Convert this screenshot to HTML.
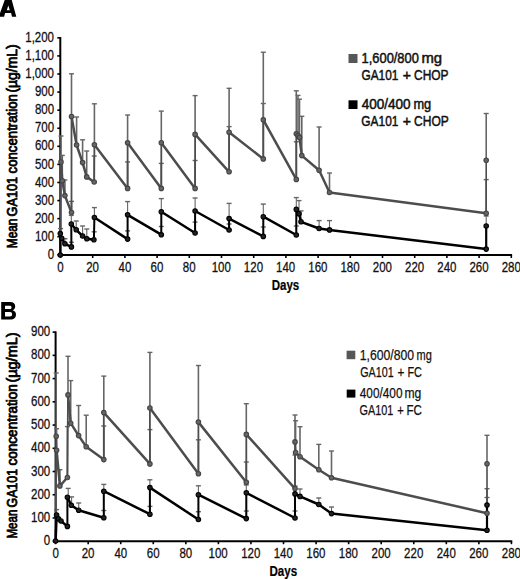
<!DOCTYPE html>
<html><head><meta charset="utf-8"><title>GA101 PK</title>
<style>html,body{margin:0;padding:0;background:#fff;width:520px;height:579px;overflow:hidden}body{position:relative;font-family:"Liberation Sans", sans-serif}</style>
</head><body>
<svg width="520" height="579" viewBox="0 0 520 579" style="position:absolute;left:0;top:0">
<rect width="520" height="579" fill="#fff"/>
<g font-family='"Liberation Sans", sans-serif'>
<path fill="#000" fill-rule="evenodd" d="M-1.2,16.7 L4.9,-0.5 L11.6,-0.5 L16.3,16.7 L12.0,16.7 L11.1,13.0 L5.1,13.0 L4.1,16.7 Z M8.3,5.6 L6.8,10.2 L9.8,10.2 Z"/>
<path fill="#000" fill-rule="evenodd" d="M1.2,302 L10.2,302 C13.6,302 15.2,303.8 15.2,306.4 C15.2,308.2 14.2,309.6 12.6,310.2 C14.7,310.8 16,312.4 16,314.6 C16,317.6 14,319.6 10.4,319.6 L1.2,319.6 Z M5,305.8 L5,309 L9.6,309 C10.9,309 11.5,308.3 11.5,307.4 C11.5,306.5 10.9,305.8 9.6,305.8 Z M5,312 L5,316.5 L9.9,316.5 C11.4,316.5 12.1,315.5 12.1,314.2 C12.1,312.9 11.4,312 9.9,312 Z"/>
<line x1="60.3" y1="37.040000000000035" x2="60.3" y2="256.0" stroke="#000" stroke-width="2"/>
<line x1="59.3" y1="255.0" x2="512.1" y2="255.0" stroke="#000" stroke-width="2"/>
<line x1="57.3" y1="254.80" x2="60.3" y2="254.80" stroke="#000" stroke-width="1.6"/>
<line x1="57.3" y1="236.72" x2="60.3" y2="236.72" stroke="#000" stroke-width="1.6"/>
<line x1="57.3" y1="218.64" x2="60.3" y2="218.64" stroke="#000" stroke-width="1.6"/>
<line x1="57.3" y1="200.56" x2="60.3" y2="200.56" stroke="#000" stroke-width="1.6"/>
<line x1="57.3" y1="182.48" x2="60.3" y2="182.48" stroke="#000" stroke-width="1.6"/>
<line x1="57.3" y1="164.40" x2="60.3" y2="164.40" stroke="#000" stroke-width="1.6"/>
<line x1="57.3" y1="146.32" x2="60.3" y2="146.32" stroke="#000" stroke-width="1.6"/>
<line x1="57.3" y1="128.24" x2="60.3" y2="128.24" stroke="#000" stroke-width="1.6"/>
<line x1="57.3" y1="110.16" x2="60.3" y2="110.16" stroke="#000" stroke-width="1.6"/>
<line x1="57.3" y1="92.08" x2="60.3" y2="92.08" stroke="#000" stroke-width="1.6"/>
<line x1="57.3" y1="74.00" x2="60.3" y2="74.00" stroke="#000" stroke-width="1.6"/>
<line x1="57.3" y1="55.92" x2="60.3" y2="55.92" stroke="#000" stroke-width="1.6"/>
<line x1="57.3" y1="37.84" x2="60.3" y2="37.84" stroke="#000" stroke-width="1.6"/>
<line x1="60.50" y1="255.0" x2="60.50" y2="258.0" stroke="#000" stroke-width="1.6"/>
<line x1="92.70" y1="255.0" x2="92.70" y2="258.0" stroke="#000" stroke-width="1.6"/>
<line x1="124.90" y1="255.0" x2="124.90" y2="258.0" stroke="#000" stroke-width="1.6"/>
<line x1="157.10" y1="255.0" x2="157.10" y2="258.0" stroke="#000" stroke-width="1.6"/>
<line x1="189.30" y1="255.0" x2="189.30" y2="258.0" stroke="#000" stroke-width="1.6"/>
<line x1="221.50" y1="255.0" x2="221.50" y2="258.0" stroke="#000" stroke-width="1.6"/>
<line x1="253.70" y1="255.0" x2="253.70" y2="258.0" stroke="#000" stroke-width="1.6"/>
<line x1="285.90" y1="255.0" x2="285.90" y2="258.0" stroke="#000" stroke-width="1.6"/>
<line x1="318.10" y1="255.0" x2="318.10" y2="258.0" stroke="#000" stroke-width="1.6"/>
<line x1="350.30" y1="255.0" x2="350.30" y2="258.0" stroke="#000" stroke-width="1.6"/>
<line x1="382.50" y1="255.0" x2="382.50" y2="258.0" stroke="#000" stroke-width="1.6"/>
<line x1="414.70" y1="255.0" x2="414.70" y2="258.0" stroke="#000" stroke-width="1.6"/>
<line x1="446.90" y1="255.0" x2="446.90" y2="258.0" stroke="#000" stroke-width="1.6"/>
<line x1="479.10" y1="255.0" x2="479.10" y2="258.0" stroke="#000" stroke-width="1.6"/>
<line x1="511.30" y1="255.0" x2="511.30" y2="258.0" stroke="#000" stroke-width="1.6"/>
<text x="47.67" y="258.90" font-size="15" font-weight="normal" fill="#111" stroke="#111" stroke-width="0.3" stroke-linejoin="round" textLength="6.40" lengthAdjust="spacingAndGlyphs">0</text>
<text x="34.91" y="240.82" font-size="15" font-weight="normal" fill="#111" stroke="#111" stroke-width="0.3" stroke-linejoin="round" textLength="19.19" lengthAdjust="spacingAndGlyphs">100</text>
<text x="34.91" y="222.74" font-size="15" font-weight="normal" fill="#111" stroke="#111" stroke-width="0.3" stroke-linejoin="round" textLength="19.19" lengthAdjust="spacingAndGlyphs">200</text>
<text x="34.91" y="204.66" font-size="15" font-weight="normal" fill="#111" stroke="#111" stroke-width="0.3" stroke-linejoin="round" textLength="19.19" lengthAdjust="spacingAndGlyphs">300</text>
<text x="34.91" y="186.58" font-size="15" font-weight="normal" fill="#111" stroke="#111" stroke-width="0.3" stroke-linejoin="round" textLength="19.19" lengthAdjust="spacingAndGlyphs">400</text>
<text x="34.91" y="168.50" font-size="15" font-weight="normal" fill="#111" stroke="#111" stroke-width="0.3" stroke-linejoin="round" textLength="19.19" lengthAdjust="spacingAndGlyphs">500</text>
<text x="34.91" y="150.42" font-size="15" font-weight="normal" fill="#111" stroke="#111" stroke-width="0.3" stroke-linejoin="round" textLength="19.19" lengthAdjust="spacingAndGlyphs">600</text>
<text x="34.91" y="132.34" font-size="15" font-weight="normal" fill="#111" stroke="#111" stroke-width="0.3" stroke-linejoin="round" textLength="19.19" lengthAdjust="spacingAndGlyphs">700</text>
<text x="34.91" y="114.26" font-size="15" font-weight="normal" fill="#111" stroke="#111" stroke-width="0.3" stroke-linejoin="round" textLength="19.19" lengthAdjust="spacingAndGlyphs">800</text>
<text x="34.91" y="96.18" font-size="15" font-weight="normal" fill="#111" stroke="#111" stroke-width="0.3" stroke-linejoin="round" textLength="19.19" lengthAdjust="spacingAndGlyphs">900</text>
<text x="25.24" y="78.10" font-size="15" font-weight="normal" fill="#111" stroke="#111" stroke-width="0.3" stroke-linejoin="round" textLength="28.78" lengthAdjust="spacingAndGlyphs">1,000</text>
<text x="25.24" y="60.02" font-size="15" font-weight="normal" fill="#111" stroke="#111" stroke-width="0.3" stroke-linejoin="round" textLength="28.78" lengthAdjust="spacingAndGlyphs">1,100</text>
<text x="25.24" y="41.94" font-size="15" font-weight="normal" fill="#111" stroke="#111" stroke-width="0.3" stroke-linejoin="round" textLength="28.78" lengthAdjust="spacingAndGlyphs">1,200</text>
<text x="57.28" y="271.80" font-size="15" font-weight="normal" fill="#111" stroke="#111" stroke-width="0.3" stroke-linejoin="round" textLength="6.40" lengthAdjust="spacingAndGlyphs">0</text>
<text x="86.20" y="271.80" font-size="15" font-weight="normal" fill="#111" stroke="#111" stroke-width="0.3" stroke-linejoin="round" textLength="12.79" lengthAdjust="spacingAndGlyphs">20</text>
<text x="118.58" y="271.80" font-size="15" font-weight="normal" fill="#111" stroke="#111" stroke-width="0.3" stroke-linejoin="round" textLength="12.79" lengthAdjust="spacingAndGlyphs">40</text>
<text x="150.60" y="271.80" font-size="15" font-weight="normal" fill="#111" stroke="#111" stroke-width="0.3" stroke-linejoin="round" textLength="12.79" lengthAdjust="spacingAndGlyphs">60</text>
<text x="182.86" y="271.80" font-size="15" font-weight="normal" fill="#111" stroke="#111" stroke-width="0.3" stroke-linejoin="round" textLength="12.79" lengthAdjust="spacingAndGlyphs">80</text>
<text x="211.67" y="271.80" font-size="15" font-weight="normal" fill="#111" stroke="#111" stroke-width="0.3" stroke-linejoin="round" textLength="19.19" lengthAdjust="spacingAndGlyphs">100</text>
<text x="243.87" y="271.80" font-size="15" font-weight="normal" fill="#111" stroke="#111" stroke-width="0.3" stroke-linejoin="round" textLength="19.19" lengthAdjust="spacingAndGlyphs">120</text>
<text x="276.07" y="271.80" font-size="15" font-weight="normal" fill="#111" stroke="#111" stroke-width="0.3" stroke-linejoin="round" textLength="19.19" lengthAdjust="spacingAndGlyphs">140</text>
<text x="308.27" y="271.80" font-size="15" font-weight="normal" fill="#111" stroke="#111" stroke-width="0.3" stroke-linejoin="round" textLength="19.19" lengthAdjust="spacingAndGlyphs">160</text>
<text x="340.47" y="271.80" font-size="15" font-weight="normal" fill="#111" stroke="#111" stroke-width="0.3" stroke-linejoin="round" textLength="19.19" lengthAdjust="spacingAndGlyphs">180</text>
<text x="372.84" y="271.80" font-size="15" font-weight="normal" fill="#111" stroke="#111" stroke-width="0.3" stroke-linejoin="round" textLength="19.19" lengthAdjust="spacingAndGlyphs">200</text>
<text x="405.04" y="271.80" font-size="15" font-weight="normal" fill="#111" stroke="#111" stroke-width="0.3" stroke-linejoin="round" textLength="19.19" lengthAdjust="spacingAndGlyphs">220</text>
<text x="437.24" y="271.80" font-size="15" font-weight="normal" fill="#111" stroke="#111" stroke-width="0.3" stroke-linejoin="round" textLength="19.19" lengthAdjust="spacingAndGlyphs">240</text>
<text x="469.44" y="271.80" font-size="15" font-weight="normal" fill="#111" stroke="#111" stroke-width="0.3" stroke-linejoin="round" textLength="19.19" lengthAdjust="spacingAndGlyphs">260</text>
<text x="501.64" y="271.80" font-size="15" font-weight="normal" fill="#111" stroke="#111" stroke-width="0.3" stroke-linejoin="round" textLength="19.19" lengthAdjust="spacingAndGlyphs">280</text>
<text x="271.69" y="289.60" font-size="14.5" font-weight="bold" fill="#000" stroke="#000" stroke-width="0.2" stroke-linejoin="round" textLength="27.57" lengthAdjust="spacingAndGlyphs">Days</text>
<text transform="translate(16.70,248.15) rotate(-90)" x="0" y="0" font-size="14.5" font-weight="normal" fill="#000" stroke="#000" stroke-width="0.8" stroke-linejoin="round" textLength="29.57" lengthAdjust="spacingAndGlyphs">Mean</text>
<text transform="translate(16.70,216.44) rotate(-90)" x="0" y="0" font-size="14.5" font-weight="normal" fill="#000" stroke="#000" stroke-width="0.8" stroke-linejoin="round" textLength="39.58" lengthAdjust="spacingAndGlyphs">GA101</text>
<text transform="translate(16.70,173.43) rotate(-90)" x="0" y="0" font-size="14.5" font-weight="normal" fill="#000" stroke="#000" stroke-width="0.8" stroke-linejoin="round" textLength="79.27" lengthAdjust="spacingAndGlyphs">concentration</text>
<text transform="translate(16.70,92.54) rotate(-90)" x="0" y="0" font-size="14.5" font-weight="normal" fill="#000" stroke="#000" stroke-width="0.8" stroke-linejoin="round" textLength="48.24" lengthAdjust="spacingAndGlyphs">(&#181;g/mL)</text>
<rect x="348.5" y="54" width="9" height="9" fill="#565656"/>
<rect x="348.5" y="100.3" width="9" height="8.7" fill="#000"/>
<text x="361.62" y="63.20" font-size="14.5" font-weight="normal" fill="#111" stroke="#111" stroke-width="0.5" stroke-linejoin="round" textLength="57.22" lengthAdjust="spacingAndGlyphs">1,600/800</text>
<text x="421.41" y="63.20" font-size="14.5" font-weight="normal" fill="#111" stroke="#111" stroke-width="0.5" stroke-linejoin="round" textLength="20.67" lengthAdjust="spacingAndGlyphs">mg</text>
<text x="361.46" y="79.90" font-size="14.5" font-weight="normal" fill="#111" stroke="#111" stroke-width="0.5" stroke-linejoin="round" textLength="36.90" lengthAdjust="spacingAndGlyphs">GA101</text>
<text x="402.85" y="79.90" font-size="14.5" font-weight="normal" fill="#111" stroke="#111" stroke-width="0.5" stroke-linejoin="round" textLength="8.22" lengthAdjust="spacingAndGlyphs">+</text>
<text x="414.05" y="79.90" font-size="14.5" font-weight="normal" fill="#111" stroke="#111" stroke-width="0.5" stroke-linejoin="round" textLength="34.48" lengthAdjust="spacingAndGlyphs">CHOP</text>
<text x="361.68" y="109.00" font-size="14.5" font-weight="normal" fill="#111" stroke="#111" stroke-width="0.5" stroke-linejoin="round" textLength="48.94" lengthAdjust="spacingAndGlyphs">400/400</text>
<text x="413.45" y="109.00" font-size="14.5" font-weight="normal" fill="#111" stroke="#111" stroke-width="0.5" stroke-linejoin="round" textLength="17.78" lengthAdjust="spacingAndGlyphs">mg</text>
<text x="361.36" y="125.80" font-size="14.5" font-weight="normal" fill="#111" stroke="#111" stroke-width="0.5" stroke-linejoin="round" textLength="37.01" lengthAdjust="spacingAndGlyphs">GA101</text>
<text x="402.85" y="125.80" font-size="14.5" font-weight="normal" fill="#111" stroke="#111" stroke-width="0.5" stroke-linejoin="round" textLength="8.22" lengthAdjust="spacingAndGlyphs">+</text>
<text x="414.05" y="125.80" font-size="14.5" font-weight="normal" fill="#111" stroke="#111" stroke-width="0.5" stroke-linejoin="round" textLength="34.69" lengthAdjust="spacingAndGlyphs">CHOP</text>
<line x1="61.0" y1="136.0" x2="61.0" y2="162.0" stroke="#666666" stroke-width="1.6"/>
<line x1="58.5" y1="136.0" x2="63.5" y2="136.0" stroke="#666666" stroke-width="1.4"/>
<line x1="62.3" y1="155.4" x2="62.3" y2="180.7" stroke="#666666" stroke-width="1.6"/>
<line x1="59.8" y1="155.4" x2="64.8" y2="155.4" stroke="#666666" stroke-width="1.4"/>
<line x1="64.9" y1="180.0" x2="64.9" y2="195.6" stroke="#666666" stroke-width="1.6"/>
<line x1="62.4" y1="180.0" x2="67.4" y2="180.0" stroke="#666666" stroke-width="1.4"/>
<line x1="71.5" y1="201.4" x2="71.5" y2="212.5" stroke="#666666" stroke-width="1.6"/>
<line x1="69.0" y1="201.4" x2="74.0" y2="201.4" stroke="#666666" stroke-width="1.4"/>
<line x1="71.5" y1="73.8" x2="71.5" y2="116.5" stroke="#666666" stroke-width="1.6"/>
<line x1="69.0" y1="73.8" x2="74.0" y2="73.8" stroke="#666666" stroke-width="1.4"/>
<line x1="76.6" y1="117.0" x2="76.6" y2="145.0" stroke="#666666" stroke-width="1.6"/>
<line x1="74.1" y1="117.0" x2="79.1" y2="117.0" stroke="#666666" stroke-width="1.4"/>
<line x1="82.6" y1="139.8" x2="82.6" y2="162.6" stroke="#666666" stroke-width="1.6"/>
<line x1="80.1" y1="139.8" x2="85.1" y2="139.8" stroke="#666666" stroke-width="1.4"/>
<line x1="86.7" y1="151.0" x2="86.7" y2="176.9" stroke="#666666" stroke-width="1.6"/>
<line x1="84.2" y1="151.0" x2="89.2" y2="151.0" stroke="#666666" stroke-width="1.4"/>
<line x1="94.2" y1="156.0" x2="94.2" y2="182.0" stroke="#666666" stroke-width="1.6"/>
<line x1="91.7" y1="156.0" x2="96.7" y2="156.0" stroke="#666666" stroke-width="1.4"/>
<line x1="94.4" y1="103.8" x2="94.4" y2="144.8" stroke="#666666" stroke-width="1.6"/>
<line x1="91.9" y1="103.8" x2="96.9" y2="103.8" stroke="#666666" stroke-width="1.4"/>
<line x1="127.6" y1="161.9" x2="127.6" y2="188.4" stroke="#666666" stroke-width="1.6"/>
<line x1="125.1" y1="161.9" x2="130.1" y2="161.9" stroke="#666666" stroke-width="1.4"/>
<line x1="127.6" y1="115.0" x2="127.6" y2="142.8" stroke="#666666" stroke-width="1.6"/>
<line x1="125.1" y1="115.0" x2="130.1" y2="115.0" stroke="#666666" stroke-width="1.4"/>
<line x1="161.3" y1="163.4" x2="161.3" y2="188.4" stroke="#666666" stroke-width="1.6"/>
<line x1="158.8" y1="163.4" x2="163.8" y2="163.4" stroke="#666666" stroke-width="1.4"/>
<line x1="161.3" y1="111.1" x2="161.3" y2="142.8" stroke="#666666" stroke-width="1.6"/>
<line x1="158.8" y1="111.1" x2="163.8" y2="111.1" stroke="#666666" stroke-width="1.4"/>
<line x1="195.1" y1="160.5" x2="195.1" y2="188.4" stroke="#666666" stroke-width="1.6"/>
<line x1="192.6" y1="160.5" x2="197.6" y2="160.5" stroke="#666666" stroke-width="1.4"/>
<line x1="195.1" y1="95.6" x2="195.1" y2="134.4" stroke="#666666" stroke-width="1.6"/>
<line x1="192.6" y1="95.6" x2="197.6" y2="95.6" stroke="#666666" stroke-width="1.4"/>
<line x1="229.1" y1="126.6" x2="229.1" y2="171.8" stroke="#666666" stroke-width="1.6"/>
<line x1="226.6" y1="126.6" x2="231.6" y2="126.6" stroke="#666666" stroke-width="1.4"/>
<line x1="229.1" y1="88.3" x2="229.1" y2="132.3" stroke="#666666" stroke-width="1.6"/>
<line x1="226.6" y1="88.3" x2="231.6" y2="88.3" stroke="#666666" stroke-width="1.4"/>
<line x1="263.3" y1="103.5" x2="263.3" y2="158.9" stroke="#666666" stroke-width="1.6"/>
<line x1="260.8" y1="103.5" x2="265.8" y2="103.5" stroke="#666666" stroke-width="1.4"/>
<line x1="263.3" y1="52.2" x2="263.3" y2="119.8" stroke="#666666" stroke-width="1.6"/>
<line x1="260.8" y1="52.2" x2="265.8" y2="52.2" stroke="#666666" stroke-width="1.4"/>
<line x1="296.3" y1="141.8" x2="296.3" y2="179.4" stroke="#666666" stroke-width="1.6"/>
<line x1="293.8" y1="141.8" x2="298.8" y2="141.8" stroke="#666666" stroke-width="1.4"/>
<line x1="296.3" y1="90.8" x2="296.3" y2="133.8" stroke="#666666" stroke-width="1.6"/>
<line x1="293.8" y1="90.8" x2="298.8" y2="90.8" stroke="#666666" stroke-width="1.4"/>
<line x1="298.0" y1="95.4" x2="298.0" y2="135.5" stroke="#666666" stroke-width="1.6"/>
<line x1="295.5" y1="95.4" x2="300.5" y2="95.4" stroke="#666666" stroke-width="1.4"/>
<line x1="299.5" y1="99.2" x2="299.5" y2="137.4" stroke="#666666" stroke-width="1.6"/>
<line x1="297.0" y1="99.2" x2="302.0" y2="99.2" stroke="#666666" stroke-width="1.4"/>
<line x1="301.8" y1="116.3" x2="301.8" y2="155.6" stroke="#666666" stroke-width="1.6"/>
<line x1="299.3" y1="116.3" x2="304.3" y2="116.3" stroke="#666666" stroke-width="1.4"/>
<line x1="319.1" y1="127.0" x2="319.1" y2="170.3" stroke="#666666" stroke-width="1.6"/>
<line x1="316.6" y1="127.0" x2="321.6" y2="127.0" stroke="#666666" stroke-width="1.4"/>
<line x1="329.5" y1="173.0" x2="329.5" y2="192.5" stroke="#666666" stroke-width="1.6"/>
<line x1="327.0" y1="173.0" x2="332.0" y2="173.0" stroke="#666666" stroke-width="1.4"/>
<line x1="486.2" y1="179.6" x2="486.2" y2="213.3" stroke="#666666" stroke-width="1.6"/>
<line x1="483.7" y1="179.6" x2="488.7" y2="179.6" stroke="#666666" stroke-width="1.4"/>
<line x1="486.2" y1="113.5" x2="486.2" y2="160.3" stroke="#666666" stroke-width="1.6"/>
<line x1="483.7" y1="113.5" x2="488.7" y2="113.5" stroke="#666666" stroke-width="1.4"/>
<line x1="60.6" y1="228.6" x2="60.6" y2="233.6" stroke="#666666" stroke-width="1.1"/>
<line x1="58.1" y1="228.6" x2="63.1" y2="228.6" stroke="#666666" stroke-width="1.4"/>
<line x1="64.9" y1="238.7" x2="64.9" y2="243.8" stroke="#666666" stroke-width="1.1"/>
<line x1="62.4" y1="238.7" x2="67.4" y2="238.7" stroke="#666666" stroke-width="1.4"/>
<line x1="71.4" y1="242.2" x2="71.4" y2="246.9" stroke="#666666" stroke-width="1.1"/>
<line x1="68.9" y1="242.2" x2="73.9" y2="242.2" stroke="#666666" stroke-width="1.4"/>
<line x1="71.3" y1="215.4" x2="71.3" y2="224.0" stroke="#666666" stroke-width="1.1"/>
<line x1="68.8" y1="215.4" x2="73.8" y2="215.4" stroke="#666666" stroke-width="1.4"/>
<line x1="76.2" y1="221.0" x2="76.2" y2="229.8" stroke="#666666" stroke-width="1.1"/>
<line x1="73.7" y1="221.0" x2="78.7" y2="221.0" stroke="#666666" stroke-width="1.4"/>
<line x1="82.6" y1="226.0" x2="82.6" y2="236.0" stroke="#666666" stroke-width="1.1"/>
<line x1="80.1" y1="226.0" x2="85.1" y2="226.0" stroke="#666666" stroke-width="1.4"/>
<line x1="86.8" y1="229.0" x2="86.8" y2="238.7" stroke="#666666" stroke-width="1.1"/>
<line x1="84.3" y1="229.0" x2="89.3" y2="229.0" stroke="#666666" stroke-width="1.4"/>
<line x1="94.2" y1="231.8" x2="94.2" y2="239.7" stroke="#666666" stroke-width="1.1"/>
<line x1="91.7" y1="231.8" x2="96.7" y2="231.8" stroke="#666666" stroke-width="1.4"/>
<line x1="94.4" y1="207.6" x2="94.4" y2="217.5" stroke="#666666" stroke-width="1.1"/>
<line x1="91.9" y1="207.6" x2="96.9" y2="207.6" stroke="#666666" stroke-width="1.4"/>
<line x1="127.6" y1="230.9" x2="127.6" y2="239.1" stroke="#666666" stroke-width="1.1"/>
<line x1="125.1" y1="230.9" x2="130.1" y2="230.9" stroke="#666666" stroke-width="1.4"/>
<line x1="127.6" y1="201.6" x2="127.6" y2="214.8" stroke="#666666" stroke-width="1.1"/>
<line x1="125.1" y1="201.6" x2="130.1" y2="201.6" stroke="#666666" stroke-width="1.4"/>
<line x1="161.3" y1="226.5" x2="161.3" y2="234.7" stroke="#666666" stroke-width="1.1"/>
<line x1="158.8" y1="226.5" x2="163.8" y2="226.5" stroke="#666666" stroke-width="1.4"/>
<line x1="161.3" y1="198.6" x2="161.3" y2="211.8" stroke="#666666" stroke-width="1.1"/>
<line x1="158.8" y1="198.6" x2="163.8" y2="198.6" stroke="#666666" stroke-width="1.4"/>
<line x1="195.1" y1="222.1" x2="195.1" y2="233.0" stroke="#666666" stroke-width="1.1"/>
<line x1="192.6" y1="222.1" x2="197.6" y2="222.1" stroke="#666666" stroke-width="1.4"/>
<line x1="195.1" y1="198.0" x2="195.1" y2="211.0" stroke="#666666" stroke-width="1.1"/>
<line x1="192.6" y1="198.0" x2="197.6" y2="198.0" stroke="#666666" stroke-width="1.4"/>
<line x1="229.1" y1="224.0" x2="229.1" y2="230.0" stroke="#666666" stroke-width="1.1"/>
<line x1="226.6" y1="224.0" x2="231.6" y2="224.0" stroke="#666666" stroke-width="1.4"/>
<line x1="229.1" y1="203.4" x2="229.1" y2="218.6" stroke="#666666" stroke-width="1.1"/>
<line x1="226.6" y1="203.4" x2="231.6" y2="203.4" stroke="#666666" stroke-width="1.4"/>
<line x1="263.3" y1="227.0" x2="263.3" y2="236.4" stroke="#666666" stroke-width="1.1"/>
<line x1="260.8" y1="227.0" x2="265.8" y2="227.0" stroke="#666666" stroke-width="1.4"/>
<line x1="263.3" y1="204.1" x2="263.3" y2="216.7" stroke="#666666" stroke-width="1.1"/>
<line x1="260.8" y1="204.1" x2="265.8" y2="204.1" stroke="#666666" stroke-width="1.4"/>
<line x1="296.3" y1="226.0" x2="296.3" y2="235.0" stroke="#666666" stroke-width="1.1"/>
<line x1="293.8" y1="226.0" x2="298.8" y2="226.0" stroke="#666666" stroke-width="1.4"/>
<line x1="296.3" y1="197.6" x2="296.3" y2="209.4" stroke="#666666" stroke-width="1.1"/>
<line x1="293.8" y1="197.6" x2="298.8" y2="197.6" stroke="#666666" stroke-width="1.4"/>
<line x1="299.0" y1="200.6" x2="299.0" y2="213.8" stroke="#666666" stroke-width="1.1"/>
<line x1="296.5" y1="200.6" x2="301.5" y2="200.6" stroke="#666666" stroke-width="1.4"/>
<line x1="301.0" y1="210.9" x2="301.0" y2="221.8" stroke="#666666" stroke-width="1.1"/>
<line x1="298.5" y1="210.9" x2="303.5" y2="210.9" stroke="#666666" stroke-width="1.4"/>
<line x1="319.1" y1="220.6" x2="319.1" y2="228.5" stroke="#666666" stroke-width="1.1"/>
<line x1="316.6" y1="220.6" x2="321.6" y2="220.6" stroke="#666666" stroke-width="1.4"/>
<line x1="329.5" y1="220.6" x2="329.5" y2="229.9" stroke="#666666" stroke-width="1.1"/>
<line x1="327.0" y1="220.6" x2="332.0" y2="220.6" stroke="#666666" stroke-width="1.4"/>
<line x1="486.2" y1="216.0" x2="486.2" y2="226.0" stroke="#666666" stroke-width="1.1"/>
<line x1="483.7" y1="216.0" x2="488.7" y2="216.0" stroke="#666666" stroke-width="1.4"/>
<path d="M60.6,255.0L61.0,162.0M71.5,212.5L71.5,116.5M94.2,182.0L94.4,144.8M127.6,188.4L127.6,142.8M161.3,188.4L161.3,142.8M195.1,188.4L195.1,134.4M229.1,171.8L229.1,132.3M263.3,158.9L263.3,119.8M296.3,179.4L296.3,133.8" fill="none" stroke="#4d4d4d" stroke-width="1.8" stroke-linecap="round"/>
<path d="M61.0,162.0L62.3,180.7M62.3,180.7L64.9,195.6M64.9,195.6L71.5,212.5M71.5,116.5L76.6,145.0M76.6,145.0L82.6,162.6M82.6,162.6L86.7,176.9M86.7,176.9L94.2,182.0M94.4,144.8L127.6,188.4M127.6,142.8L161.3,188.4M161.3,142.8L195.1,188.4M195.1,134.4L229.1,171.8M229.1,132.3L263.3,158.9M263.3,119.8L296.3,179.4M296.3,133.8L298.0,135.5M298.0,135.5L299.5,137.4M299.5,137.4L301.8,155.6M301.8,155.6L319.1,170.3M319.1,170.3L329.5,192.5M329.5,192.5L486.2,213.3" fill="none" stroke="#4d4d4d" stroke-width="2.5" stroke-linejoin="round" stroke-linecap="round"/>
<path d="M60.3,255.0L60.3,233.6M71.4,246.9L71.3,224.0M93.9,239.7L94.4,217.5M127.6,239.1L127.6,214.8M161.3,234.7L161.3,211.8M195.1,233.0L195.1,211.0M229.1,230.0L229.1,218.6M263.3,236.4L263.3,216.7M296.3,235.0L296.3,209.4" fill="none" stroke="#000" stroke-width="2.0" stroke-linecap="round"/>
<path d="M60.3,233.6L61.7,238.3M61.7,238.3L64.9,243.8M64.9,243.8L71.4,246.9M71.3,224.0L76.2,229.8M76.2,229.8L82.6,236.0M82.6,236.0L86.8,238.7M86.8,238.7L93.9,239.7M94.4,217.5L127.6,239.1M127.6,214.8L161.3,234.7M161.3,211.8L195.1,233.0M195.1,211.0L229.1,230.0M229.1,218.6L263.3,236.4M263.3,216.7L296.3,235.0M296.3,209.4L299.0,213.8M299.0,213.8L301.0,221.8M301.0,221.8L319.1,228.5M319.1,228.5L329.5,229.9M329.5,229.9L486.2,249.1" fill="none" stroke="#000" stroke-width="2.5" stroke-linejoin="round" stroke-linecap="round"/>
<line x1="486.2" y1="160.3" x2="486.2" y2="213.3" stroke="#4d4d4d" stroke-width="1.6"/>
<line x1="486.2" y1="226" x2="486.2" y2="249.1" stroke="#000" stroke-width="2.2"/>
<circle cx="61.0" cy="162.0" r="2.25" fill="#666" stroke="#444" stroke-width="1.1"/>
<circle cx="62.3" cy="180.7" r="2.25" fill="#666" stroke="#444" stroke-width="1.1"/>
<circle cx="64.9" cy="195.6" r="2.25" fill="#666" stroke="#444" stroke-width="1.1"/>
<circle cx="71.5" cy="212.5" r="2.25" fill="#666" stroke="#444" stroke-width="1.1"/>
<circle cx="71.5" cy="116.5" r="2.25" fill="#666" stroke="#444" stroke-width="1.1"/>
<circle cx="76.6" cy="145.0" r="2.25" fill="#666" stroke="#444" stroke-width="1.1"/>
<circle cx="82.6" cy="162.6" r="2.25" fill="#666" stroke="#444" stroke-width="1.1"/>
<circle cx="86.7" cy="176.9" r="2.25" fill="#666" stroke="#444" stroke-width="1.1"/>
<circle cx="94.2" cy="182.0" r="2.25" fill="#666" stroke="#444" stroke-width="1.1"/>
<circle cx="94.4" cy="144.8" r="2.25" fill="#666" stroke="#444" stroke-width="1.1"/>
<circle cx="127.6" cy="188.4" r="2.25" fill="#666" stroke="#444" stroke-width="1.1"/>
<circle cx="127.6" cy="142.8" r="2.25" fill="#666" stroke="#444" stroke-width="1.1"/>
<circle cx="161.3" cy="188.4" r="2.25" fill="#666" stroke="#444" stroke-width="1.1"/>
<circle cx="161.3" cy="142.8" r="2.25" fill="#666" stroke="#444" stroke-width="1.1"/>
<circle cx="195.1" cy="188.4" r="2.25" fill="#666" stroke="#444" stroke-width="1.1"/>
<circle cx="195.1" cy="134.4" r="2.25" fill="#666" stroke="#444" stroke-width="1.1"/>
<circle cx="229.1" cy="171.8" r="2.25" fill="#666" stroke="#444" stroke-width="1.1"/>
<circle cx="229.1" cy="132.3" r="2.25" fill="#666" stroke="#444" stroke-width="1.1"/>
<circle cx="263.3" cy="158.9" r="2.25" fill="#666" stroke="#444" stroke-width="1.1"/>
<circle cx="263.3" cy="119.8" r="2.25" fill="#666" stroke="#444" stroke-width="1.1"/>
<circle cx="296.3" cy="179.4" r="2.25" fill="#666" stroke="#444" stroke-width="1.1"/>
<circle cx="296.3" cy="133.8" r="2.25" fill="#666" stroke="#444" stroke-width="1.1"/>
<circle cx="298.0" cy="135.5" r="2.25" fill="#666" stroke="#444" stroke-width="1.1"/>
<circle cx="299.5" cy="137.4" r="2.25" fill="#666" stroke="#444" stroke-width="1.1"/>
<circle cx="301.8" cy="155.6" r="2.25" fill="#666" stroke="#444" stroke-width="1.1"/>
<circle cx="319.1" cy="170.3" r="2.25" fill="#666" stroke="#444" stroke-width="1.1"/>
<circle cx="329.5" cy="192.5" r="2.25" fill="#666" stroke="#444" stroke-width="1.1"/>
<circle cx="486.2" cy="213.3" r="2.25" fill="#666" stroke="#444" stroke-width="1.1"/>
<circle cx="486.2" cy="160.3" r="2.25" fill="#666" stroke="#444" stroke-width="1.1"/>
<circle cx="60.3" cy="255.0" r="2.25" fill="#222" stroke="#000" stroke-width="1.1"/>
<circle cx="60.3" cy="233.6" r="2.25" fill="#222" stroke="#000" stroke-width="1.1"/>
<circle cx="61.7" cy="238.3" r="2.25" fill="#222" stroke="#000" stroke-width="1.1"/>
<circle cx="64.9" cy="243.8" r="2.25" fill="#222" stroke="#000" stroke-width="1.1"/>
<circle cx="71.4" cy="246.9" r="2.25" fill="#222" stroke="#000" stroke-width="1.1"/>
<circle cx="71.3" cy="224.0" r="2.25" fill="#222" stroke="#000" stroke-width="1.1"/>
<circle cx="76.2" cy="229.8" r="2.25" fill="#222" stroke="#000" stroke-width="1.1"/>
<circle cx="82.6" cy="236.0" r="2.25" fill="#222" stroke="#000" stroke-width="1.1"/>
<circle cx="86.8" cy="238.7" r="2.25" fill="#222" stroke="#000" stroke-width="1.1"/>
<circle cx="93.9" cy="239.7" r="2.25" fill="#222" stroke="#000" stroke-width="1.1"/>
<circle cx="94.4" cy="217.5" r="2.25" fill="#222" stroke="#000" stroke-width="1.1"/>
<circle cx="127.6" cy="239.1" r="2.25" fill="#222" stroke="#000" stroke-width="1.1"/>
<circle cx="127.6" cy="214.8" r="2.25" fill="#222" stroke="#000" stroke-width="1.1"/>
<circle cx="161.3" cy="234.7" r="2.25" fill="#222" stroke="#000" stroke-width="1.1"/>
<circle cx="161.3" cy="211.8" r="2.25" fill="#222" stroke="#000" stroke-width="1.1"/>
<circle cx="195.1" cy="233.0" r="2.25" fill="#222" stroke="#000" stroke-width="1.1"/>
<circle cx="195.1" cy="211.0" r="2.25" fill="#222" stroke="#000" stroke-width="1.1"/>
<circle cx="229.1" cy="230.0" r="2.25" fill="#222" stroke="#000" stroke-width="1.1"/>
<circle cx="229.1" cy="218.6" r="2.25" fill="#222" stroke="#000" stroke-width="1.1"/>
<circle cx="263.3" cy="236.4" r="2.25" fill="#222" stroke="#000" stroke-width="1.1"/>
<circle cx="263.3" cy="216.7" r="2.25" fill="#222" stroke="#000" stroke-width="1.1"/>
<circle cx="296.3" cy="235.0" r="2.25" fill="#222" stroke="#000" stroke-width="1.1"/>
<circle cx="296.3" cy="209.4" r="2.25" fill="#222" stroke="#000" stroke-width="1.1"/>
<circle cx="299.0" cy="213.8" r="2.25" fill="#222" stroke="#000" stroke-width="1.1"/>
<circle cx="301.0" cy="221.8" r="2.25" fill="#222" stroke="#000" stroke-width="1.1"/>
<circle cx="319.1" cy="228.5" r="2.25" fill="#222" stroke="#000" stroke-width="1.1"/>
<circle cx="329.5" cy="229.9" r="2.25" fill="#222" stroke="#000" stroke-width="1.1"/>
<circle cx="486.2" cy="249.1" r="2.25" fill="#222" stroke="#000" stroke-width="1.1"/>
<circle cx="486.2" cy="226.0" r="2.25" fill="#222" stroke="#000" stroke-width="1.1"/>
<line x1="55.6" y1="331.33000000000004" x2="55.6" y2="542.2" stroke="#000" stroke-width="2"/>
<line x1="54.6" y1="541.2" x2="512.24" y2="541.2" stroke="#000" stroke-width="2"/>
<line x1="52.6" y1="541.20" x2="55.6" y2="541.20" stroke="#000" stroke-width="1.6"/>
<line x1="52.6" y1="517.97" x2="55.6" y2="517.97" stroke="#000" stroke-width="1.6"/>
<line x1="52.6" y1="494.74" x2="55.6" y2="494.74" stroke="#000" stroke-width="1.6"/>
<line x1="52.6" y1="471.51" x2="55.6" y2="471.51" stroke="#000" stroke-width="1.6"/>
<line x1="52.6" y1="448.28" x2="55.6" y2="448.28" stroke="#000" stroke-width="1.6"/>
<line x1="52.6" y1="425.05" x2="55.6" y2="425.05" stroke="#000" stroke-width="1.6"/>
<line x1="52.6" y1="401.82" x2="55.6" y2="401.82" stroke="#000" stroke-width="1.6"/>
<line x1="52.6" y1="378.59" x2="55.6" y2="378.59" stroke="#000" stroke-width="1.6"/>
<line x1="52.6" y1="355.36" x2="55.6" y2="355.36" stroke="#000" stroke-width="1.6"/>
<line x1="52.6" y1="332.13" x2="55.6" y2="332.13" stroke="#000" stroke-width="1.6"/>
<line x1="55.60" y1="541.2" x2="55.60" y2="544.2" stroke="#000" stroke-width="1.6"/>
<line x1="88.16" y1="541.2" x2="88.16" y2="544.2" stroke="#000" stroke-width="1.6"/>
<line x1="120.72" y1="541.2" x2="120.72" y2="544.2" stroke="#000" stroke-width="1.6"/>
<line x1="153.28" y1="541.2" x2="153.28" y2="544.2" stroke="#000" stroke-width="1.6"/>
<line x1="185.84" y1="541.2" x2="185.84" y2="544.2" stroke="#000" stroke-width="1.6"/>
<line x1="218.40" y1="541.2" x2="218.40" y2="544.2" stroke="#000" stroke-width="1.6"/>
<line x1="250.96" y1="541.2" x2="250.96" y2="544.2" stroke="#000" stroke-width="1.6"/>
<line x1="283.52" y1="541.2" x2="283.52" y2="544.2" stroke="#000" stroke-width="1.6"/>
<line x1="316.08" y1="541.2" x2="316.08" y2="544.2" stroke="#000" stroke-width="1.6"/>
<line x1="348.64" y1="541.2" x2="348.64" y2="544.2" stroke="#000" stroke-width="1.6"/>
<line x1="381.20" y1="541.2" x2="381.20" y2="544.2" stroke="#000" stroke-width="1.6"/>
<line x1="413.76" y1="541.2" x2="413.76" y2="544.2" stroke="#000" stroke-width="1.6"/>
<line x1="446.32" y1="541.2" x2="446.32" y2="544.2" stroke="#000" stroke-width="1.6"/>
<line x1="478.88" y1="541.2" x2="478.88" y2="544.2" stroke="#000" stroke-width="1.6"/>
<line x1="511.44" y1="541.2" x2="511.44" y2="544.2" stroke="#000" stroke-width="1.6"/>
<text x="43.77" y="545.20" font-size="15" font-weight="normal" fill="#111" stroke="#111" stroke-width="0.3" stroke-linejoin="round" textLength="6.40" lengthAdjust="spacingAndGlyphs">0</text>
<text x="31.00" y="521.97" font-size="15" font-weight="normal" fill="#111" stroke="#111" stroke-width="0.3" stroke-linejoin="round" textLength="19.19" lengthAdjust="spacingAndGlyphs">100</text>
<text x="31.00" y="498.74" font-size="15" font-weight="normal" fill="#111" stroke="#111" stroke-width="0.3" stroke-linejoin="round" textLength="19.19" lengthAdjust="spacingAndGlyphs">200</text>
<text x="31.00" y="475.51" font-size="15" font-weight="normal" fill="#111" stroke="#111" stroke-width="0.3" stroke-linejoin="round" textLength="19.19" lengthAdjust="spacingAndGlyphs">300</text>
<text x="31.00" y="452.28" font-size="15" font-weight="normal" fill="#111" stroke="#111" stroke-width="0.3" stroke-linejoin="round" textLength="19.19" lengthAdjust="spacingAndGlyphs">400</text>
<text x="31.00" y="429.05" font-size="15" font-weight="normal" fill="#111" stroke="#111" stroke-width="0.3" stroke-linejoin="round" textLength="19.19" lengthAdjust="spacingAndGlyphs">500</text>
<text x="31.00" y="405.82" font-size="15" font-weight="normal" fill="#111" stroke="#111" stroke-width="0.3" stroke-linejoin="round" textLength="19.19" lengthAdjust="spacingAndGlyphs">600</text>
<text x="31.00" y="382.59" font-size="15" font-weight="normal" fill="#111" stroke="#111" stroke-width="0.3" stroke-linejoin="round" textLength="19.19" lengthAdjust="spacingAndGlyphs">700</text>
<text x="31.00" y="359.36" font-size="15" font-weight="normal" fill="#111" stroke="#111" stroke-width="0.3" stroke-linejoin="round" textLength="19.19" lengthAdjust="spacingAndGlyphs">800</text>
<text x="31.00" y="336.13" font-size="15" font-weight="normal" fill="#111" stroke="#111" stroke-width="0.3" stroke-linejoin="round" textLength="19.19" lengthAdjust="spacingAndGlyphs">900</text>
<text x="52.38" y="557.80" font-size="15" font-weight="normal" fill="#111" stroke="#111" stroke-width="0.3" stroke-linejoin="round" textLength="6.40" lengthAdjust="spacingAndGlyphs">0</text>
<text x="81.66" y="557.80" font-size="15" font-weight="normal" fill="#111" stroke="#111" stroke-width="0.3" stroke-linejoin="round" textLength="12.79" lengthAdjust="spacingAndGlyphs">20</text>
<text x="114.39" y="557.80" font-size="15" font-weight="normal" fill="#111" stroke="#111" stroke-width="0.3" stroke-linejoin="round" textLength="12.79" lengthAdjust="spacingAndGlyphs">40</text>
<text x="146.78" y="557.80" font-size="15" font-weight="normal" fill="#111" stroke="#111" stroke-width="0.3" stroke-linejoin="round" textLength="12.79" lengthAdjust="spacingAndGlyphs">60</text>
<text x="179.40" y="557.80" font-size="15" font-weight="normal" fill="#111" stroke="#111" stroke-width="0.3" stroke-linejoin="round" textLength="12.79" lengthAdjust="spacingAndGlyphs">80</text>
<text x="208.57" y="557.80" font-size="15" font-weight="normal" fill="#111" stroke="#111" stroke-width="0.3" stroke-linejoin="round" textLength="19.19" lengthAdjust="spacingAndGlyphs">100</text>
<text x="241.13" y="557.80" font-size="15" font-weight="normal" fill="#111" stroke="#111" stroke-width="0.3" stroke-linejoin="round" textLength="19.19" lengthAdjust="spacingAndGlyphs">120</text>
<text x="273.69" y="557.80" font-size="15" font-weight="normal" fill="#111" stroke="#111" stroke-width="0.3" stroke-linejoin="round" textLength="19.19" lengthAdjust="spacingAndGlyphs">140</text>
<text x="306.25" y="557.80" font-size="15" font-weight="normal" fill="#111" stroke="#111" stroke-width="0.3" stroke-linejoin="round" textLength="19.19" lengthAdjust="spacingAndGlyphs">160</text>
<text x="338.81" y="557.80" font-size="15" font-weight="normal" fill="#111" stroke="#111" stroke-width="0.3" stroke-linejoin="round" textLength="19.19" lengthAdjust="spacingAndGlyphs">180</text>
<text x="371.54" y="557.80" font-size="15" font-weight="normal" fill="#111" stroke="#111" stroke-width="0.3" stroke-linejoin="round" textLength="19.19" lengthAdjust="spacingAndGlyphs">200</text>
<text x="404.10" y="557.80" font-size="15" font-weight="normal" fill="#111" stroke="#111" stroke-width="0.3" stroke-linejoin="round" textLength="19.19" lengthAdjust="spacingAndGlyphs">220</text>
<text x="436.66" y="557.80" font-size="15" font-weight="normal" fill="#111" stroke="#111" stroke-width="0.3" stroke-linejoin="round" textLength="19.19" lengthAdjust="spacingAndGlyphs">240</text>
<text x="469.22" y="557.80" font-size="15" font-weight="normal" fill="#111" stroke="#111" stroke-width="0.3" stroke-linejoin="round" textLength="19.19" lengthAdjust="spacingAndGlyphs">260</text>
<text x="501.78" y="557.80" font-size="15" font-weight="normal" fill="#111" stroke="#111" stroke-width="0.3" stroke-linejoin="round" textLength="19.19" lengthAdjust="spacingAndGlyphs">280</text>
<text x="269.49" y="575.90" font-size="14.5" font-weight="bold" fill="#000" stroke="#000" stroke-width="0.2" stroke-linejoin="round" textLength="27.68" lengthAdjust="spacingAndGlyphs">Days</text>
<text transform="translate(16.80,538.53) rotate(-90)" x="0" y="0" font-size="14.5" font-weight="normal" fill="#000" stroke="#000" stroke-width="0.8" stroke-linejoin="round" textLength="28.93" lengthAdjust="spacingAndGlyphs">Mean</text>
<text transform="translate(16.80,507.42) rotate(-90)" x="0" y="0" font-size="14.5" font-weight="normal" fill="#000" stroke="#000" stroke-width="0.8" stroke-linejoin="round" textLength="38.55" lengthAdjust="spacingAndGlyphs">GA101</text>
<text transform="translate(16.80,465.54) rotate(-90)" x="0" y="0" font-size="14.5" font-weight="normal" fill="#000" stroke="#000" stroke-width="0.8" stroke-linejoin="round" textLength="81.40" lengthAdjust="spacingAndGlyphs">concentration</text>
<text transform="translate(16.80,382.57) rotate(-90)" x="0" y="0" font-size="14.5" font-weight="normal" fill="#000" stroke="#000" stroke-width="0.8" stroke-linejoin="round" textLength="50.11" lengthAdjust="spacingAndGlyphs">(&#181;g/mL)</text>
<rect x="346.6" y="350.7" width="8.7" height="8.5" fill="#565656"/>
<rect x="346.7" y="389.6" width="8.7" height="8" fill="#000"/>
<text x="359.75" y="360.00" font-size="14.5" font-weight="normal" fill="#111" stroke="#111" stroke-width="0.25" stroke-linejoin="round" textLength="54.29" lengthAdjust="spacingAndGlyphs">1,600/800</text>
<text x="416.56" y="360.00" font-size="14.5" font-weight="normal" fill="#111" stroke="#111" stroke-width="0.25" stroke-linejoin="round" textLength="15.28" lengthAdjust="spacingAndGlyphs">mg</text>
<text x="360.19" y="376.80" font-size="14.5" font-weight="normal" fill="#111" stroke="#111" stroke-width="0.25" stroke-linejoin="round" textLength="33.45" lengthAdjust="spacingAndGlyphs">GA101</text>
<text x="397.54" y="376.80" font-size="14.5" font-weight="normal" fill="#111" stroke="#111" stroke-width="0.25" stroke-linejoin="round" textLength="6.85" lengthAdjust="spacingAndGlyphs">+</text>
<text x="407.46" y="376.80" font-size="14.5" font-weight="normal" fill="#111" stroke="#111" stroke-width="0.25" stroke-linejoin="round" textLength="14.49" lengthAdjust="spacingAndGlyphs">FC</text>
<text x="359.79" y="398.40" font-size="14.5" font-weight="normal" fill="#111" stroke="#111" stroke-width="0.25" stroke-linejoin="round" textLength="42.69" lengthAdjust="spacingAndGlyphs">400/400</text>
<text x="404.48" y="398.40" font-size="14.5" font-weight="normal" fill="#111" stroke="#111" stroke-width="0.25" stroke-linejoin="round" textLength="16.84" lengthAdjust="spacingAndGlyphs">mg</text>
<text x="359.48" y="415.40" font-size="14.5" font-weight="normal" fill="#111" stroke="#111" stroke-width="0.25" stroke-linejoin="round" textLength="33.86" lengthAdjust="spacingAndGlyphs">GA101</text>
<text x="397.16" y="415.40" font-size="14.5" font-weight="normal" fill="#111" stroke="#111" stroke-width="0.25" stroke-linejoin="round" textLength="6.62" lengthAdjust="spacingAndGlyphs">+</text>
<text x="406.40" y="415.40" font-size="14.5" font-weight="normal" fill="#111" stroke="#111" stroke-width="0.25" stroke-linejoin="round" textLength="15.37" lengthAdjust="spacingAndGlyphs">FC</text>
<line x1="56.2" y1="373.0" x2="56.2" y2="436.2" stroke="#666666" stroke-width="1.6"/>
<line x1="53.7" y1="373.0" x2="58.7" y2="373.0" stroke="#666666" stroke-width="1.4"/>
<line x1="56.6" y1="428.7" x2="56.6" y2="450.2" stroke="#666666" stroke-width="1.6"/>
<line x1="54.1" y1="428.7" x2="59.1" y2="428.7" stroke="#666666" stroke-width="1.4"/>
<line x1="59.9" y1="469.7" x2="59.9" y2="485.9" stroke="#666666" stroke-width="1.6"/>
<line x1="57.4" y1="469.7" x2="62.4" y2="469.7" stroke="#666666" stroke-width="1.4"/>
<line x1="67.4" y1="426.6" x2="67.4" y2="477.5" stroke="#666666" stroke-width="1.6"/>
<line x1="64.9" y1="426.6" x2="69.9" y2="426.6" stroke="#666666" stroke-width="1.4"/>
<line x1="68.0" y1="356.3" x2="68.0" y2="394.9" stroke="#666666" stroke-width="1.6"/>
<line x1="65.5" y1="356.3" x2="70.5" y2="356.3" stroke="#666666" stroke-width="1.4"/>
<line x1="70.7" y1="380.6" x2="70.7" y2="423.2" stroke="#666666" stroke-width="1.6"/>
<line x1="68.2" y1="380.6" x2="73.2" y2="380.6" stroke="#666666" stroke-width="1.4"/>
<line x1="78.6" y1="405.5" x2="78.6" y2="435.6" stroke="#666666" stroke-width="1.6"/>
<line x1="76.1" y1="405.5" x2="81.1" y2="405.5" stroke="#666666" stroke-width="1.4"/>
<line x1="86.2" y1="415.2" x2="86.2" y2="446.7" stroke="#666666" stroke-width="1.6"/>
<line x1="83.7" y1="415.2" x2="88.7" y2="415.2" stroke="#666666" stroke-width="1.4"/>
<line x1="103.8" y1="426.0" x2="103.8" y2="459.6" stroke="#666666" stroke-width="1.6"/>
<line x1="101.3" y1="426.0" x2="106.3" y2="426.0" stroke="#666666" stroke-width="1.4"/>
<line x1="103.8" y1="376.1" x2="103.8" y2="412.6" stroke="#666666" stroke-width="1.6"/>
<line x1="101.3" y1="376.1" x2="106.3" y2="376.1" stroke="#666666" stroke-width="1.4"/>
<line x1="149.9" y1="429.6" x2="149.9" y2="463.9" stroke="#666666" stroke-width="1.6"/>
<line x1="147.4" y1="429.6" x2="152.4" y2="429.6" stroke="#666666" stroke-width="1.4"/>
<line x1="149.9" y1="352.4" x2="149.9" y2="408.0" stroke="#666666" stroke-width="1.6"/>
<line x1="147.4" y1="352.4" x2="152.4" y2="352.4" stroke="#666666" stroke-width="1.4"/>
<line x1="198.4" y1="439.8" x2="198.4" y2="473.8" stroke="#666666" stroke-width="1.6"/>
<line x1="195.9" y1="439.8" x2="200.9" y2="439.8" stroke="#666666" stroke-width="1.4"/>
<line x1="198.4" y1="365.5" x2="198.4" y2="422.1" stroke="#666666" stroke-width="1.6"/>
<line x1="195.9" y1="365.5" x2="200.9" y2="365.5" stroke="#666666" stroke-width="1.4"/>
<line x1="246.3" y1="462.0" x2="246.3" y2="482.2" stroke="#666666" stroke-width="1.6"/>
<line x1="243.8" y1="462.0" x2="248.8" y2="462.0" stroke="#666666" stroke-width="1.4"/>
<line x1="246.3" y1="403.7" x2="246.3" y2="434.4" stroke="#666666" stroke-width="1.6"/>
<line x1="243.8" y1="403.7" x2="248.8" y2="403.7" stroke="#666666" stroke-width="1.4"/>
<line x1="295.0" y1="455.0" x2="295.0" y2="488.6" stroke="#666666" stroke-width="1.6"/>
<line x1="292.5" y1="455.0" x2="297.5" y2="455.0" stroke="#666666" stroke-width="1.4"/>
<line x1="295.0" y1="415.0" x2="295.0" y2="441.9" stroke="#666666" stroke-width="1.6"/>
<line x1="292.5" y1="415.0" x2="297.5" y2="415.0" stroke="#666666" stroke-width="1.4"/>
<line x1="295.6" y1="420.7" x2="295.6" y2="452.5" stroke="#666666" stroke-width="1.6"/>
<line x1="293.1" y1="420.7" x2="298.1" y2="420.7" stroke="#666666" stroke-width="1.4"/>
<line x1="300.0" y1="426.7" x2="300.0" y2="456.7" stroke="#666666" stroke-width="1.6"/>
<line x1="297.5" y1="426.7" x2="302.5" y2="426.7" stroke="#666666" stroke-width="1.4"/>
<line x1="318.8" y1="444.4" x2="318.8" y2="469.8" stroke="#666666" stroke-width="1.6"/>
<line x1="316.3" y1="444.4" x2="321.3" y2="444.4" stroke="#666666" stroke-width="1.4"/>
<line x1="331.5" y1="451.0" x2="331.5" y2="477.8" stroke="#666666" stroke-width="1.6"/>
<line x1="329.0" y1="451.0" x2="334.0" y2="451.0" stroke="#666666" stroke-width="1.4"/>
<line x1="487.0" y1="488.7" x2="487.0" y2="513.2" stroke="#666666" stroke-width="1.6"/>
<line x1="484.5" y1="488.7" x2="489.5" y2="488.7" stroke="#666666" stroke-width="1.4"/>
<line x1="487.0" y1="435.3" x2="487.0" y2="463.8" stroke="#666666" stroke-width="1.6"/>
<line x1="484.5" y1="435.3" x2="489.5" y2="435.3" stroke="#666666" stroke-width="1.4"/>
<line x1="56.6" y1="509.6" x2="56.6" y2="515.0" stroke="#666666" stroke-width="1.1"/>
<line x1="54.1" y1="509.6" x2="59.1" y2="509.6" stroke="#666666" stroke-width="1.4"/>
<line x1="68.2" y1="488.4" x2="68.2" y2="497.2" stroke="#666666" stroke-width="1.1"/>
<line x1="65.7" y1="488.4" x2="70.7" y2="488.4" stroke="#666666" stroke-width="1.4"/>
<line x1="71.6" y1="496.9" x2="71.6" y2="505.3" stroke="#666666" stroke-width="1.1"/>
<line x1="69.1" y1="496.9" x2="74.1" y2="496.9" stroke="#666666" stroke-width="1.4"/>
<line x1="78.7" y1="503.0" x2="78.7" y2="510.3" stroke="#666666" stroke-width="1.1"/>
<line x1="76.2" y1="503.0" x2="81.2" y2="503.0" stroke="#666666" stroke-width="1.4"/>
<line x1="103.8" y1="510.5" x2="103.8" y2="517.7" stroke="#666666" stroke-width="1.1"/>
<line x1="101.3" y1="510.5" x2="106.3" y2="510.5" stroke="#666666" stroke-width="1.4"/>
<line x1="103.8" y1="484.4" x2="103.8" y2="491.2" stroke="#666666" stroke-width="1.1"/>
<line x1="101.3" y1="484.4" x2="106.3" y2="484.4" stroke="#666666" stroke-width="1.4"/>
<line x1="149.9" y1="506.4" x2="149.9" y2="514.2" stroke="#666666" stroke-width="1.1"/>
<line x1="147.4" y1="506.4" x2="152.4" y2="506.4" stroke="#666666" stroke-width="1.4"/>
<line x1="149.9" y1="479.8" x2="149.9" y2="487.6" stroke="#666666" stroke-width="1.1"/>
<line x1="147.4" y1="479.8" x2="152.4" y2="479.8" stroke="#666666" stroke-width="1.4"/>
<line x1="198.4" y1="511.7" x2="198.4" y2="519.5" stroke="#666666" stroke-width="1.1"/>
<line x1="195.9" y1="511.7" x2="200.9" y2="511.7" stroke="#666666" stroke-width="1.4"/>
<line x1="198.4" y1="485.8" x2="198.4" y2="494.7" stroke="#666666" stroke-width="1.1"/>
<line x1="195.9" y1="485.8" x2="200.9" y2="485.8" stroke="#666666" stroke-width="1.4"/>
<line x1="246.3" y1="511.0" x2="246.3" y2="518.6" stroke="#666666" stroke-width="1.1"/>
<line x1="243.8" y1="511.0" x2="248.8" y2="511.0" stroke="#666666" stroke-width="1.4"/>
<line x1="246.3" y1="485.0" x2="246.3" y2="492.8" stroke="#666666" stroke-width="1.1"/>
<line x1="243.8" y1="485.0" x2="248.8" y2="485.0" stroke="#666666" stroke-width="1.4"/>
<line x1="295.0" y1="511.0" x2="295.0" y2="518.0" stroke="#666666" stroke-width="1.1"/>
<line x1="292.5" y1="511.0" x2="297.5" y2="511.0" stroke="#666666" stroke-width="1.4"/>
<line x1="295.0" y1="486.0" x2="295.0" y2="493.9" stroke="#666666" stroke-width="1.1"/>
<line x1="292.5" y1="486.0" x2="297.5" y2="486.0" stroke="#666666" stroke-width="1.4"/>
<line x1="300.0" y1="489.0" x2="300.0" y2="496.4" stroke="#666666" stroke-width="1.1"/>
<line x1="297.5" y1="489.0" x2="302.5" y2="489.0" stroke="#666666" stroke-width="1.4"/>
<line x1="318.8" y1="498.0" x2="318.8" y2="504.5" stroke="#666666" stroke-width="1.1"/>
<line x1="316.3" y1="498.0" x2="321.3" y2="498.0" stroke="#666666" stroke-width="1.4"/>
<line x1="331.5" y1="507.0" x2="331.5" y2="513.6" stroke="#666666" stroke-width="1.1"/>
<line x1="329.0" y1="507.0" x2="334.0" y2="507.0" stroke="#666666" stroke-width="1.4"/>
<line x1="487.0" y1="497.5" x2="487.0" y2="505.1" stroke="#666666" stroke-width="1.1"/>
<line x1="484.5" y1="497.5" x2="489.5" y2="497.5" stroke="#666666" stroke-width="1.4"/>
<path d="M55.6,541.0L56.2,436.2M56.2,436.2L56.6,450.2M67.4,477.5L68.0,394.9M103.8,459.6L103.8,412.6M149.9,463.9L149.9,408.0M198.4,473.8L198.4,422.1M246.3,482.2L246.3,434.4M295.0,488.6L295.0,441.9M295.0,441.9L295.6,452.5" fill="none" stroke="#4d4d4d" stroke-width="1.8" stroke-linecap="round"/>
<path d="M56.6,450.2L59.9,485.9M59.9,485.9L67.4,477.5M68.0,394.9L70.7,423.2M70.7,423.2L78.6,435.6M78.6,435.6L86.2,446.7M86.2,446.7L103.8,459.6M103.8,412.6L149.9,463.9M149.9,408.0L198.4,473.8M198.4,422.1L246.3,482.2M246.3,434.4L295.0,488.6M295.6,452.5L300.0,456.7M300.0,456.7L318.8,469.8M318.8,469.8L331.5,477.8M331.5,477.8L487.0,513.2" fill="none" stroke="#4d4d4d" stroke-width="2.5" stroke-linejoin="round" stroke-linecap="round"/>
<path d="M67.4,526.4L67.4,497.2M103.8,517.7L103.8,491.2M149.9,514.2L149.9,487.6M198.4,519.5L198.4,494.7M246.3,518.6L246.3,492.8M295.0,518.0L295.0,493.9" fill="none" stroke="#000" stroke-width="2.0" stroke-linecap="round"/>
<path d="M55.6,541.0L56.6,515.0M56.6,515.0L58.5,518.8M58.5,518.8L61.0,521.0M61.0,521.0L67.4,526.4M67.4,497.2L71.3,505.3M71.3,505.3L78.7,510.3M78.7,510.3L103.8,517.7M103.8,491.2L149.9,514.2M149.9,487.6L198.4,519.5M198.4,494.7L246.3,518.6M246.3,492.8L295.0,518.0M295.0,493.9L300.0,496.4M300.0,496.4L318.8,504.5M318.8,504.5L331.5,513.6M331.5,513.6L487.0,530.3" fill="none" stroke="#000" stroke-width="2.5" stroke-linejoin="round" stroke-linecap="round"/>
<line x1="487" y1="463.8" x2="487" y2="513.2" stroke="#4d4d4d" stroke-width="1.6"/>
<line x1="487" y1="505.1" x2="487" y2="530.3" stroke="#000" stroke-width="2.2"/>
<circle cx="56.2" cy="436.2" r="2.25" fill="#666" stroke="#444" stroke-width="1.1"/>
<circle cx="56.6" cy="450.2" r="2.25" fill="#666" stroke="#444" stroke-width="1.1"/>
<circle cx="59.9" cy="485.9" r="2.25" fill="#666" stroke="#444" stroke-width="1.1"/>
<circle cx="67.4" cy="477.5" r="2.25" fill="#666" stroke="#444" stroke-width="1.1"/>
<circle cx="68.0" cy="394.9" r="2.25" fill="#666" stroke="#444" stroke-width="1.1"/>
<circle cx="70.7" cy="423.2" r="2.25" fill="#666" stroke="#444" stroke-width="1.1"/>
<circle cx="78.6" cy="435.6" r="2.25" fill="#666" stroke="#444" stroke-width="1.1"/>
<circle cx="86.2" cy="446.7" r="2.25" fill="#666" stroke="#444" stroke-width="1.1"/>
<circle cx="103.8" cy="459.6" r="2.25" fill="#666" stroke="#444" stroke-width="1.1"/>
<circle cx="103.8" cy="412.6" r="2.25" fill="#666" stroke="#444" stroke-width="1.1"/>
<circle cx="149.9" cy="463.9" r="2.25" fill="#666" stroke="#444" stroke-width="1.1"/>
<circle cx="149.9" cy="408.0" r="2.25" fill="#666" stroke="#444" stroke-width="1.1"/>
<circle cx="198.4" cy="473.8" r="2.25" fill="#666" stroke="#444" stroke-width="1.1"/>
<circle cx="198.4" cy="422.1" r="2.25" fill="#666" stroke="#444" stroke-width="1.1"/>
<circle cx="246.3" cy="482.2" r="2.25" fill="#666" stroke="#444" stroke-width="1.1"/>
<circle cx="246.3" cy="434.4" r="2.25" fill="#666" stroke="#444" stroke-width="1.1"/>
<circle cx="295.0" cy="488.6" r="2.25" fill="#666" stroke="#444" stroke-width="1.1"/>
<circle cx="295.0" cy="441.9" r="2.25" fill="#666" stroke="#444" stroke-width="1.1"/>
<circle cx="295.6" cy="452.5" r="2.25" fill="#666" stroke="#444" stroke-width="1.1"/>
<circle cx="300.0" cy="456.7" r="2.25" fill="#666" stroke="#444" stroke-width="1.1"/>
<circle cx="318.8" cy="469.8" r="2.25" fill="#666" stroke="#444" stroke-width="1.1"/>
<circle cx="331.5" cy="477.8" r="2.25" fill="#666" stroke="#444" stroke-width="1.1"/>
<circle cx="487.0" cy="513.2" r="2.25" fill="#666" stroke="#444" stroke-width="1.1"/>
<circle cx="487.0" cy="463.8" r="2.25" fill="#666" stroke="#444" stroke-width="1.1"/>
<circle cx="55.6" cy="541.0" r="2.25" fill="#222" stroke="#000" stroke-width="1.1"/>
<circle cx="56.6" cy="515.0" r="2.25" fill="#222" stroke="#000" stroke-width="1.1"/>
<circle cx="58.5" cy="518.8" r="2.25" fill="#222" stroke="#000" stroke-width="1.1"/>
<circle cx="61.0" cy="521.0" r="2.25" fill="#222" stroke="#000" stroke-width="1.1"/>
<circle cx="67.4" cy="526.4" r="2.25" fill="#222" stroke="#000" stroke-width="1.1"/>
<circle cx="67.4" cy="497.2" r="2.25" fill="#222" stroke="#000" stroke-width="1.1"/>
<circle cx="71.3" cy="505.3" r="2.25" fill="#222" stroke="#000" stroke-width="1.1"/>
<circle cx="78.7" cy="510.3" r="2.25" fill="#222" stroke="#000" stroke-width="1.1"/>
<circle cx="103.8" cy="517.7" r="2.25" fill="#222" stroke="#000" stroke-width="1.1"/>
<circle cx="103.8" cy="491.2" r="2.25" fill="#222" stroke="#000" stroke-width="1.1"/>
<circle cx="149.9" cy="514.2" r="2.25" fill="#222" stroke="#000" stroke-width="1.1"/>
<circle cx="149.9" cy="487.6" r="2.25" fill="#222" stroke="#000" stroke-width="1.1"/>
<circle cx="198.4" cy="519.5" r="2.25" fill="#222" stroke="#000" stroke-width="1.1"/>
<circle cx="198.4" cy="494.7" r="2.25" fill="#222" stroke="#000" stroke-width="1.1"/>
<circle cx="246.3" cy="518.6" r="2.25" fill="#222" stroke="#000" stroke-width="1.1"/>
<circle cx="246.3" cy="492.8" r="2.25" fill="#222" stroke="#000" stroke-width="1.1"/>
<circle cx="295.0" cy="518.0" r="2.25" fill="#222" stroke="#000" stroke-width="1.1"/>
<circle cx="295.0" cy="493.9" r="2.25" fill="#222" stroke="#000" stroke-width="1.1"/>
<circle cx="300.0" cy="496.4" r="2.25" fill="#222" stroke="#000" stroke-width="1.1"/>
<circle cx="318.8" cy="504.5" r="2.25" fill="#222" stroke="#000" stroke-width="1.1"/>
<circle cx="331.5" cy="513.6" r="2.25" fill="#222" stroke="#000" stroke-width="1.1"/>
<circle cx="487.0" cy="530.3" r="2.25" fill="#222" stroke="#000" stroke-width="1.1"/>
<circle cx="487.0" cy="505.1" r="2.25" fill="#222" stroke="#000" stroke-width="1.1"/>
</g></svg>
</body></html>
